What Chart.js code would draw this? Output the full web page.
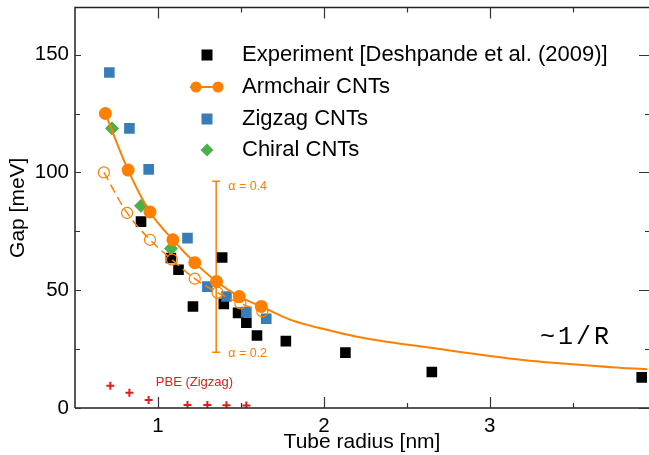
<!DOCTYPE html>
<html>
<head>
<meta charset="utf-8">
<script src="https://cdn.jsdelivr.net/npm/chart.js@4.4.1/dist/chart.umd.min.js"></script>
<style>
  html, body { margin: 0; padding: 0; background: #fff; }
  #wrap { width: 649px; height: 455px; }
</style>
</head>
<body>
<div id="wrap"><canvas id="chart" width="649" height="455"></canvas></div>
<script>
// Experiment [Deshpande et al. (2009)]
const expRadius = [0.898, 1.078, 1.124, 1.211, 1.387, 1.397, 1.483, 1.533, 1.597, 1.771, 2.13, 2.651, 3.916]
const expGap = [79.1, 63.7, 58.7, 43.1, 63.9, 44.2, 40.4, 36.2, 30.8, 28.4, 23.5, 15.3, 13.0]

// armchair, alpha = 0.4 (filled) and alpha = 0.2 (open, dashed)
const armRadius = [0.683, 0.82, 0.952, 1.09, 1.222, 1.353, 1.49, 1.623]
const armGap = [125, 101, 83.2, 71.4, 61.7, 53.7, 47.3, 43.1]
const armLowRadius = [0.674, 0.814, 0.952, 1.084, 1.222, 1.359, 1.497, 1.629]
const armLowGap = [100, 82.8, 71.4, 63, 54.9, 49, 44.4, 41]

const zigRadius = [0.707, 0.828, 0.944, 1.178, 1.298, 1.413, 1.533, 1.653]
const zigGap = [142.4, 118.7, 101.3, 72.1, 51.5, 47.3, 40.7, 37.9]

const chiRadius = [0.723, 0.898, 1.078]
const chiGap = [118.7, 85.8, 67.7]

const pbeRadius = [0.713, 0.828, 0.944, 1.178, 1.298, 1.413, 1.533]
const pbeGap = [9.4, 6.5, 3.4, 1.3, 1.3, 1.2, 1.1]

// ~1/R tail of the armchair curve
const fitRadius = [1.623, 1.8, 2.0, 2.2, 2.4, 2.6, 2.8, 3.0, 3.2, 3.4, 3.6, 3.8, 3.95]
const fitGap = [43.1, 37.4, 33.5, 30.2, 27.9, 26.0, 24.0, 22.1, 20.4, 19.1, 18.0, 17.0, 16.5]

// error bar between alpha = 0.2 and alpha = 0.4
const barRadius = 1.351
const barLow = 23.7
const barHigh = 96.3

const xMajor = [1, 2, 3]
const xMinor = [1.5, 2.5, 3.5]
const yMajor = [0, 50, 100, 150]
const yMinor = [25, 75, 125]

const ORANGE = '#FF7F00'
const BLUE = '#377EB8'
const GREEN = '#4DAF4A'
const RED = '#E41A1C'
const FONT = '"Liberation Sans", Arial, sans-serif'

const pts = (xs, ys) => xs.map((x, i) => ({x: x, y: ys[i]}))

// no extra room for tick labels, the plot box is fixed
const noPad = s => { s.paddingTop = 0; s.paddingBottom = 0; s.paddingLeft = 0; s.paddingRight = 0 }

const extras = {
  id: 'extras',
  afterLayout(chart) {
    // plot runs right up to the canvas edge
    const a = chart.chartArea
    const xs = chart.scales.x
    a.right = chart.width
    a.width = a.right - a.left
    xs.right = a.right
    xs.width = a.width
    xs.configure()
  },
  beforeDatasetsDraw(chart) {
    const ctx = chart.ctx
    const xs = chart.scales.x, ys = chart.scales.y
    const bx = xs.getPixelForValue(barRadius)
    const b0 = ys.getPixelForValue(barLow), b1 = ys.getPixelForValue(barHigh)
    ctx.save()
    ctx.strokeStyle = ORANGE
    ctx.lineWidth = 1.5
    ctx.beginPath()
    ctx.moveTo(bx, b0); ctx.lineTo(bx, b1)
    ctx.moveTo(bx - 4, b0); ctx.lineTo(bx + 4, b0)
    ctx.moveTo(bx - 4, b1); ctx.lineTo(bx + 4, b1)
    ctx.stroke()
    ctx.fillStyle = ORANGE
    ctx.font = '12.5px ' + FONT
    ctx.textBaseline = 'middle'
    ctx.fillText('\u03b1 = 0.4', bx + 12, b1 + 5)
    ctx.fillText('\u03b1 = 0.2', bx + 12, b0 + 1)
    ctx.restore()
  },
  afterDraw(chart) {
    const ctx = chart.ctx
    const a = chart.chartArea
    const xs = chart.scales.x, ys = chart.scales.y
    ctx.save()
    // frame
    ctx.strokeStyle = '#222'
    ctx.lineWidth = 1.5
    ctx.beginPath()
    ctx.moveTo(a.left, a.bottom); ctx.lineTo(a.left, a.top); ctx.lineTo(a.right, a.top)
    ctx.moveTo(a.left, a.bottom); ctx.lineTo(a.right, a.bottom)
    ctx.stroke()
    // inward ticks
    ctx.lineWidth = 1.2
    ctx.strokeStyle = '#333'
    ctx.beginPath()
    xMajor.concat(xMinor).forEach(v => {
      const len = xMajor.includes(v) ? 11 : 5
      const px = Math.round(xs.getPixelForValue(v)) + 0.5
      ctx.moveTo(px, a.bottom); ctx.lineTo(px, a.bottom - len)
      ctx.moveTo(px, a.top); ctx.lineTo(px, a.top + len)
    })
    yMajor.concat(yMinor).forEach(v => {
      const major = yMajor.includes(v)
      const py = Math.round(ys.getPixelForValue(v)) + 0.5
      ctx.moveTo(a.left, py); ctx.lineTo(a.left + (major ? 6 : 5), py)
      ctx.moveTo(a.right, py); ctx.lineTo(a.right - (major ? 10 : 4), py)
    })
    ctx.stroke()

    // legend
    const lx = 207, tx = 242
    const rows = [55, 87, 119, 150]
    ctx.font = '22px ' + FONT
    ctx.textBaseline = 'middle'
    ctx.fillStyle = '#000'
    ctx.fillRect(lx - 5.5, rows[0] - 5.5, 11, 11)
    ctx.fillText('Experiment [Deshpande et al. (2009)]', tx, rows[0])
    ctx.strokeStyle = ORANGE
    ctx.lineWidth = 2
    ctx.beginPath(); ctx.moveTo(190, rows[1]); ctx.lineTo(223, rows[1]); ctx.stroke()
    ctx.fillStyle = ORANGE
    ;[196, 218].forEach(cx => { ctx.beginPath(); ctx.arc(cx, rows[1], 5.5, 0, Math.PI * 2); ctx.fill() })
    ctx.fillStyle = '#000'
    ctx.fillText('Armchair CNTs', tx, rows[1])
    ctx.fillStyle = BLUE
    ctx.fillRect(lx - 5.5, rows[2] - 5.5, 11, 11)
    ctx.fillStyle = '#000'
    ctx.fillText('Zigzag CNTs', tx, rows[2])
    ctx.fillStyle = GREEN
    ctx.beginPath()
    ctx.moveTo(lx, rows[3] - 6.5); ctx.lineTo(lx + 6.5, rows[3]); ctx.lineTo(lx, rows[3] + 6.5); ctx.lineTo(lx - 6.5, rows[3])
    ctx.closePath(); ctx.fill()
    ctx.fillStyle = '#000'
    ctx.fillText('Chiral CNTs', tx, rows[3])

    // labels
    ctx.fillStyle = RED
    ctx.font = '13px ' + FONT
    ctx.textAlign = 'center'
    ctx.fillText('PBE (Zigzag)', xs.getPixelForValue(1.22), ys.getPixelForValue(11))
    ctx.fillStyle = '#000'
    ctx.font = '25px "Liberation Mono", "DejaVu Sans Mono", monospace'
    ctx.letterSpacing = '3px'
    ctx.fillText('~1/R', xs.getPixelForValue(3.52), ys.getPixelForValue(30))
    ctx.restore()
  }
}

new Chart(document.getElementById('chart'), {
  type: 'scatter',
  data: {
    datasets: [
      {
        label: 'Armchair CNTs',
        data: pts(armRadius, armGap),
        showLine: true,
        borderColor: ORANGE,
        backgroundColor: ORANGE,
        borderWidth: 2,
        pointRadius: 5.5,
        pointStyle: 'circle',
        cubicInterpolationMode: 'monotone'
      },
      {
        label: 'Armchair alpha 0.2',
        data: pts(armLowRadius, armLowGap),
        showLine: true,
        borderColor: ORANGE,
        backgroundColor: 'rgba(0,0,0,0)',
        borderWidth: 1.5,
        borderDash: [9, 5],
        pointRadius: 5.5,
        pointBorderWidth: 1.2,
        pointStyle: 'circle',
        cubicInterpolationMode: 'monotone'
      },
      {
        label: 'Chiral CNTs',
        data: pts(chiRadius, chiGap),
        backgroundColor: GREEN,
        borderColor: GREEN,
        pointStyle: 'rectRot',
        pointRadius: 6.5
      },
      {
        label: 'Zigzag CNTs',
        data: pts(zigRadius, zigGap),
        backgroundColor: BLUE,
        borderColor: BLUE,
        pointStyle: 'rect',
        pointRadius: 7.5,
        borderWidth: 0
      },
      {
        label: 'Experiment [Deshpande et al. (2009)]',
        data: pts(expRadius, expGap),
        backgroundColor: '#000',
        borderColor: '#000',
        pointStyle: 'rect',
        pointRadius: 7.5,
        borderWidth: 0
      },
      {
        label: 'PBE (Zigzag)',
        data: pts(pbeRadius, pbeGap),
        borderColor: RED,
        backgroundColor: RED,
        pointStyle: 'cross',
        pointRadius: 4,
        pointBorderWidth: 2
      },
      {
        label: '~1/R',
        data: pts(fitRadius, fitGap),
        showLine: true,
        borderColor: ORANGE,
        borderWidth: 2,
        pointRadius: 0,
        cubicInterpolationMode: 'monotone'
      }
    ]
  },
  options: {
    responsive: false,
    animation: false,
    devicePixelRatio: 1,
    layout: { padding: { top: 5, right: 0, left: 0, bottom: 0 } },
    plugins: { legend: { display: false }, tooltip: { enabled: false } },
    elements: { point: { hoverRadius: 0 } },
    scales: {
      x: {
        type: 'linear',
        min: 0.5,
        max: 3.96,
        afterFit: s => { s.height = 47; noPad(s) },
        afterBuildTicks: s => { s.ticks = xMajor.map(v => ({value: v})) },
        grid: { display: false, drawTicks: false },
        border: { display: false },
        ticks: { color: '#000', font: { family: FONT, size: 20.5 }, padding: 6, maxRotation: 0 },
        title: { display: true, text: 'Tube radius [nm]', color: '#000', font: { family: FONT, size: 21 }, padding: 0 }
      },
      y: {
        type: 'linear',
        min: 0,
        max: 170,
        afterFit: s => { s.width = 75; noPad(s) },
        afterBuildTicks: s => { s.ticks = yMajor.map(v => ({value: v})) },
        grid: { display: false, drawTicks: false },
        border: { display: false },
        ticks: { color: '#000', font: { family: FONT, size: 20.5 }, padding: 6 },
        title: { display: true, text: 'Gap [meV]', color: '#000', font: { family: FONT, size: 21 }, padding: { top: 6, bottom: 0 } }
      }
    }
  },
  plugins: [extras]
})
</script>
</body>
</html>
